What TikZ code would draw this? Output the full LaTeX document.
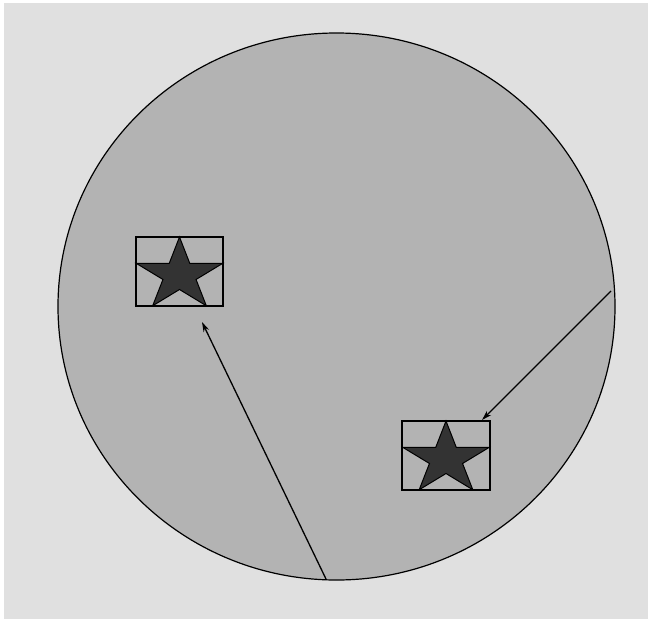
\documentclass[tikz,border=0pt]{standalone}
\usetikzlibrary{arrows.meta,shapes.geometric}

\definecolor{bgback}{HTML}{E0E0E0}
\definecolor{discfill}{HTML}{B3B3B3}
\definecolor{starfill}{HTML}{333333}

\tikzset{
  frame/.style={draw=black, line width=1.3pt, inner sep=0pt,
    minimum width=87pt, minimum height=69pt},
  ptr/.style={-{Stealth[length=10pt,width=6pt]}, line width=1.3pt},
  starpath/.style={fill=starfill, draw=black, line width=1pt}
}

% star inside a frame
\newcommand{\starin}[1]{
  \begin{scope}[shift={(#1.center)}, shift={(0,3.5)}, xscale=1.2]
    \draw[starpath] (-90:38)
      \foreach \k in {0,...,4} { -- (-54+72*\k:14.5) -- (-18+72*\k:38) } -- cycle;
  \end{scope}
}

\begin{document}
\begin{tikzpicture}[x=1pt,y=-1pt]
\useasboundingbox (0,0) rectangle (648,619);
\fill[white] (0,0) rectangle (648,619);
\fill[bgback] (4,3) rectangle (648,619);

\node[draw=black, line width=1.2pt, fill=discfill, ellipse, inner sep=0pt,
  minimum width=557pt, minimum height=547pt] (disc) at (336.5,306.5) {};

\node[frame] (box1) at (179.5,271.5) {};
\node[frame, minimum width=88pt] (box2) at (446,455.5) {};

\starin{box1}
\starin{box2}
\node[frame] at (box1) {};
\node[frame, minimum width=88pt] at (box2) {};

\coordinate (s1) at (326,579);
\coordinate (s2) at (611,291);
\coordinate (t1) at (202,322);
\coordinate (t2) at (482,420);

\draw[ptr] (s1) -- (t1);
\draw[ptr] (s2) -- (t2);
\end{tikzpicture}
\end{document}
